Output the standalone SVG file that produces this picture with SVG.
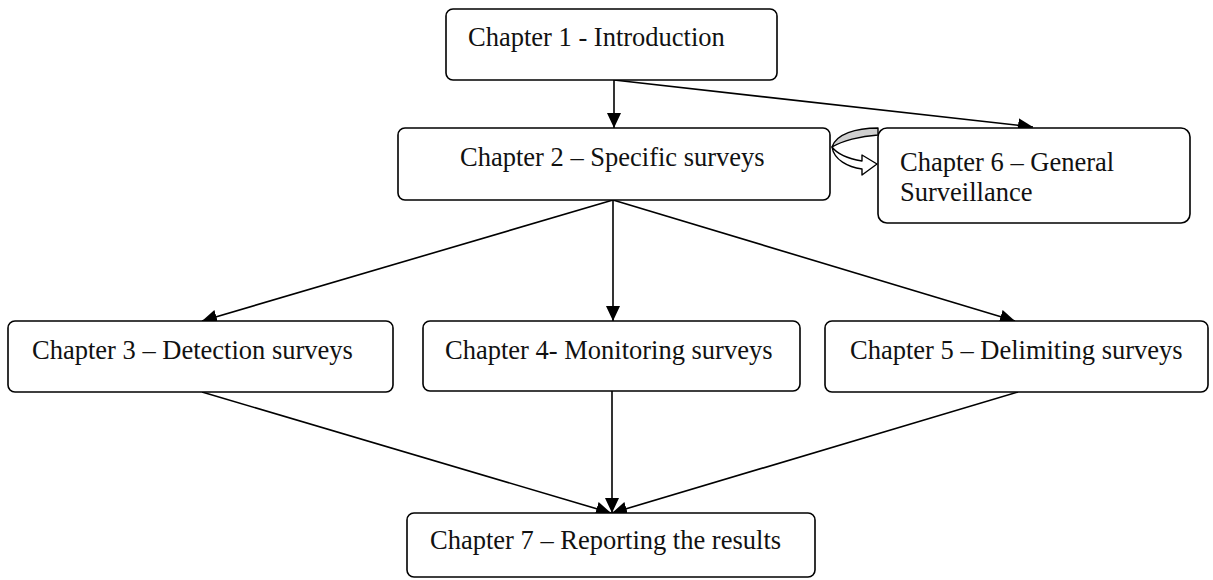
<svg xmlns="http://www.w3.org/2000/svg" width="1213" height="580" viewBox="0 0 1213 580">
  <defs>
    <marker id="arrow" markerUnits="userSpaceOnUse" markerWidth="15" markerHeight="14" refX="15" refY="7" orient="auto">
      <path d="M0,0 L15,7 L0,14 Z" fill="#000"/>
    </marker>
  </defs>
  <style>
    .box { fill: #fff; stroke: #000; stroke-width: 1.6; }
    .lbl { font-family: "Liberation Serif", "Times New Roman", serif; font-size: 26.5px; fill: #111; }
    .edge { stroke: #000; stroke-width: 1.6; fill: none; marker-end: url(#arrow); }
  </style>

  <rect width="1213" height="580" fill="#fff"/>

  <g id="connectors">
    <line class="edge" x1="614" y1="80" x2="614" y2="128"/>
    <line class="edge" x1="614" y1="80" x2="1033" y2="127"/>
    <line class="edge" x1="613" y1="200" x2="202" y2="321"/>
    <line class="edge" x1="613" y1="200" x2="613" y2="321"/>
    <line class="edge" x1="613" y1="200" x2="1015" y2="321"/>
    <line class="edge" x1="202" y1="392" x2="611" y2="513"/>
    <line class="edge" x1="612" y1="391" x2="612" y2="513"/>
    <line class="edge" x1="1018" y1="392" x2="612" y2="513"/>
  </g>

  <g id="ch1">
    <rect class="box" x="446" y="9" width="331" height="71" rx="7"/>
    <text class="lbl" x="468" y="46">Chapter 1 - Introduction</text>
  </g>

  <g id="ch2">
    <rect class="box" x="398" y="128" width="432" height="72" rx="7"/>
    <text class="lbl" x="460" y="166">Chapter 2 – Specific surveys</text>
  </g>

  <g id="ch6">
    <rect class="box" x="878" y="128" width="312" height="95" rx="9"/>
    <text class="lbl" x="900" y="171">Chapter 6 – General</text>
    <text class="lbl" x="900" y="201">Surveillance</text>
  </g>

  <!-- curved link from chapter 2 round to chapter 6 -->
  <g id="curved-link" stroke="#000" stroke-width="1.4" stroke-linejoin="round">
    <path d="M878,128 C856,128 836,134 832,147 C842,141 860,136 878,135 Z" fill="#cfcfcf"/>
    <path d="M832,147 C834,160 848,167 862,169 L862,175 L877,164 L862,155 L862,161 C850,159 838,155 832,147 Z" fill="#fff"/>
  </g>

  <g id="ch3">
    <rect class="box" x="8" y="321" width="385" height="71" rx="7"/>
    <text class="lbl" x="32" y="359">Chapter 3 – Detection surveys</text>
  </g>

  <g id="ch4">
    <rect class="box" x="423" y="321" width="377" height="70" rx="7"/>
    <text class="lbl" x="445" y="359">Chapter 4- Monitoring surveys</text>
  </g>

  <g id="ch5">
    <rect class="box" x="825" y="321" width="383" height="71" rx="7"/>
    <text class="lbl" x="850" y="359">Chapter 5 – Delimiting surveys</text>
  </g>

  <g id="ch7">
    <rect class="box" x="407" y="513" width="408" height="64" rx="7"/>
    <text class="lbl" x="430" y="549">Chapter 7 – Reporting the results</text>
  </g>
</svg>
